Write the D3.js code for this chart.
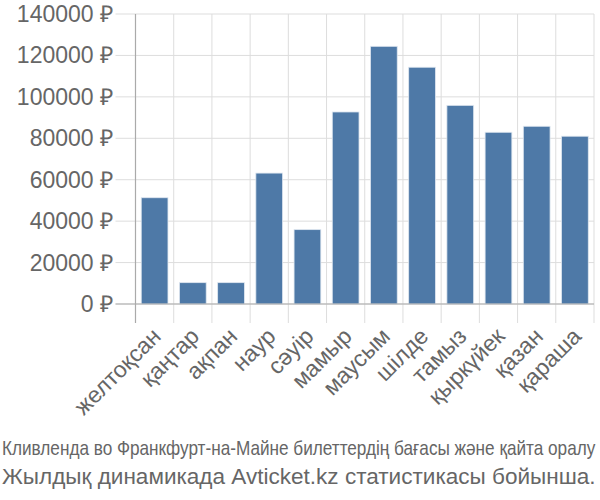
<!DOCTYPE html>
<html><head><meta charset="utf-8">
<script src="https://cdn.jsdelivr.net/npm/d3@7"></script>
<style>body{margin:0;background:#fff}svg{display:block;font-family:"Liberation Sans",Arial,sans-serif}</style>
</head><body>
<svg id="c" width="600" height="500"></svg>
<script>
const months = ["желтоқсан","қаңтар","ақпан","наур","сәуір","мамыр","маусым","шілде","тамыз","қыркүйек","қазан","қараша"];
const prices = [51300,10300,10300,63200,35900,92700,124400,114300,95900,82900,85800,81000];
const yTicks = [0,20000,40000,60000,80000,100000,120000,140000];
const footer1 = "Кливленда во Франкфурт-на-Майне билеттердің бағасы және қайта оралу";
const footer2 = "Жылдық динамикада Avticket.kz статистикасы бойынша.";

const svg = d3.select("#c");
const L = 135.5, R = 594, T = 14, B = 304;
const x = d3.scaleBand().domain(months).range([L, R]).paddingInner(0.3).paddingOuter(0.15);
const y = d3.scaleLinear().domain([0, 140000]).range([B, T]);
const step = x.step();

svg.append("g").selectAll("line").data(yTicks).join("line")
  .attr("x1", L - 20).attr("x2", R).attr("y1", d => y(d)).attr("y2", d => y(d))
  .attr("stroke", "#dddddd").attr("stroke-width", 1);
const bounds = d3.range(months.length + 1).map(i => L + i * step);
svg.append("g").selectAll("line").data(bounds).join("line")
  .attr("x1", d => d).attr("x2", d => d).attr("y1", T).attr("y2", B + 19)
  .attr("stroke", "#dddddd").attr("stroke-width", 1);

svg.append("g").selectAll("rect").data(months).join("rect")
  .attr("x", d => x(d)).attr("width", x.bandwidth())
  .attr("y", (d, i) => y(prices[i])).attr("height", (d, i) => B - y(prices[i]))
  .attr("fill", "#4e79a7").attr("stroke", "#dfe7f0").attr("stroke-width", 0.8);

svg.append("line").attr("x1", L).attr("x2", L).attr("y1", T).attr("y2", B + 19).attr("stroke", "#aaaaaa").attr("stroke-width", 1.2);
svg.append("line").attr("x1", L - 20).attr("x2", R).attr("y1", B).attr("y2", B).attr("stroke", "#aaaaaa").attr("stroke-width", 1.2);

svg.append("g").selectAll("text").data(yTicks).join("text")
  .attr("x", 113).attr("y", d => y(d)).attr("dy", "0.35em")
  .attr("text-anchor", "end").attr("font-size", 23).attr("fill", "#666")
  .text(d => d + " ₽");

svg.append("g").selectAll("text").data(months).join("text")
  .attr("transform", d => `translate(${x(d) + x.bandwidth() / 2 + 2},${B + 28}) rotate(-45)`)
  .attr("text-anchor", "end").attr("dy", "0.35em").attr("font-size", 23).attr("fill", "#666")
  .text(d => d);

function fitText(txt, yPos, size, width) {
  const g = svg.append("g");
  const t = g.append("text").attr("x", 0).attr("y", 0).attr("font-size", size).attr("fill", "#666").text(txt);
  const len = t.node().getComputedTextLength();
  g.attr("transform", `translate(2,${yPos}) scale(${width / len},1)`);
}
fitText(footer1, 455, 20, 594);
fitText(footer2, 484, 22, 594);
</script>
</body></html>
